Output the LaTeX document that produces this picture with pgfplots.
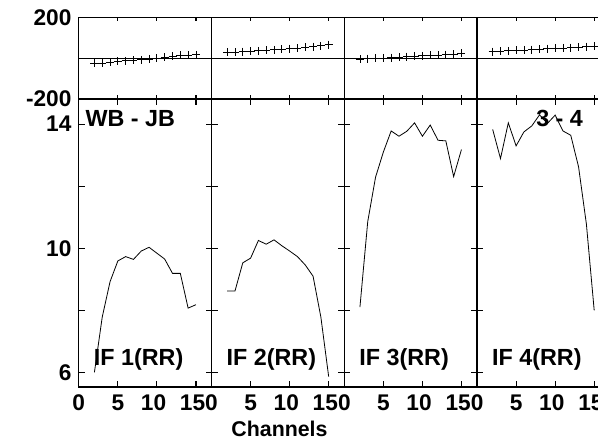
\documentclass[border=0pt]{standalone}
\usepackage{fontspec}
\setmainfont{Liberation Sans}
\usepackage{pgfplots}
\pgfplotsset{compat=1.18}
\newcommand{\tickfont}{\fontsize{17}{19}\selectfont\bfseries}
\newcommand{\labfont}{\fontsize{17.5}{20}\selectfont\bfseries}
\pgfplotsset{
  panel/.style={scale only axis, width=99.56pt, xmin=0, xmax=17,
    xtick={0,5,10,15}, tick align=inside,
    axis line style={line width=0.9pt},
    every tick/.style={black, line width=0.9pt},
    tick label style={font=\tickfont},
    xticklabel style={yshift=-2.5pt},
    yticklabel style={xshift=-2pt},
    /pgf/number format/assume math mode=true,
    anchor=south west, clip=false},
  toppanel/.style={panel, height=61.3pt, ymin=-200, ymax=200,
    ytick={-200,200}, xticklabels={}, major tick length=3pt,
    extra y ticks={0}, extra y tick labels={},
    extra y tick style={grid=major, major grid style={black, line width=0.8pt}}},
  botpanel/.style={panel, height=216pt, ymin=5.527, ymax=14.81,
    ytick={6,8,10,12,14}, major tick length=4.5pt,
    xticklabels={0,5,\hspace*{-5pt}10,\hspace*{-5pt}15}},
  ph/.style={black, only marks, mark=+, mark size=3pt, mark options={line width=0.6pt}},
  amp/.style={black, line width=0.6pt, mark=none},
}
\begin{document}
\begin{tikzpicture}
\useasboundingbox (0,0) rectangle (448.5pt,330pt);
\clip (0,0) rectangle (448.5pt,330pt);
% ---------- top panels (phase) ----------
\begin{axis}[toppanel, at={(59.1pt,255.75pt)}]
\addplot[ph] coordinates {(2,-25) (3,-24) (4,-20) (5,-16) (6,-13) (7,-11) (8,-8) (9,-4) (10,0) (11,5) (12,10) (13,13) (14,15) (15,16)};
\end{axis}
\begin{axis}[toppanel, at={(158.66pt,255.75pt)}, yticklabels={}]
\addplot[ph] coordinates {(2,29) (3,30) (4,32) (5,34) (6,36) (7,38) (8,41) (9,43) (10,46) (11,49) (12,53) (13,56) (14,60) (15,66)};
\end{axis}
\begin{axis}[toppanel, at={(258.23pt,255.75pt)}, yticklabels={}]
\addplot[ph] coordinates {(2,-5) (3,-3) (4,-1) (5,1) (6,3) (7,5) (8,7) (9,9) (10,11) (11,13) (12,15) (13,17) (14,20) (15,23)};
\end{axis}
\begin{axis}[toppanel, at={(357.79pt,255.75pt)}, yticklabels={}]
\addplot[ph] coordinates {(2,32) (3,34) (4,36) (5,38) (6,40) (7,42) (8,44) (9,46) (10,48) (11,50) (12,52) (13,54) (14,56) (15,58)};
\end{axis}
% ---------- bottom panels (amplitude) ----------
\begin{axis}[botpanel, at={(59.1pt,39.75pt)}, yticklabels={6,,10,,14}]
\addplot[amp] coordinates {(2,6.0) (3,7.78) (4,8.92) (5,9.59) (6,9.73) (7,9.64) (8,9.91) (9,10.03) (10,9.84) (11,9.65) (12,9.19) (13,9.19) (14,8.07) (15,8.18)};
\node[anchor=base west, inner sep=0, font=\labfont] at (rel axis cs:0.049,0.906) {WB - JB};
\node[anchor=base west, inner sep=0, font=\labfont] at (rel axis cs:0.112,0.073) {IF 1(RR)};
\end{axis}
\begin{axis}[botpanel, at={(158.66pt,39.75pt)}, yticklabels={}]
\addplot[amp] coordinates {(2,8.62) (3,8.62) (4,9.53) (5,9.68) (6,10.25) (7,10.13) (8,10.27) (9,10.08) (10,9.91) (11,9.73) (12,9.46) (13,9.10) (14,7.78) (15,5.86)};
\node[anchor=base west, inner sep=0, font=\labfont] at (rel axis cs:0.112,0.073) {IF 2(RR)};
\end{axis}
\begin{axis}[botpanel, at={(258.23pt,39.75pt)}, yticklabels={}]
\addplot[amp] coordinates {(2,8.10) (3,10.86) (4,12.29) (5,13.10) (6,13.78) (7,13.61) (8,13.77) (9,14.04) (10,13.61) (11,13.97) (12,13.48) (13,13.46) (14,12.31) (15,13.18)};
\node[anchor=base west, inner sep=0, font=\labfont] at (rel axis cs:0.112,0.073) {IF 3(RR)};
\end{axis}
\begin{axis}[botpanel, at={(357.79pt,39.75pt)}, yticklabels={}]
\addplot[amp] coordinates {(2,13.83) (3,12.89) (4,14.04) (5,13.30) (6,13.75) (7,13.94) (8,14.30) (9,14.02) (10,14.29) (11,13.78) (12,13.64) (13,12.62) (14,10.78) (15,8.0)};
\node[anchor=base west, inner sep=0, font=\labfont] at (rel axis cs:0.444,0.906) {3 - 4};
\node[anchor=base west, inner sep=0, font=\labfont] at (rel axis cs:0.112,0.073) {IF 4(RR)};
\end{axis}
\node[anchor=base, inner sep=0, font=\fontsize{16}{18}\selectfont\bfseries] at (209.6pt,2.5pt) {Channels};
\end{tikzpicture}
\end{document}
